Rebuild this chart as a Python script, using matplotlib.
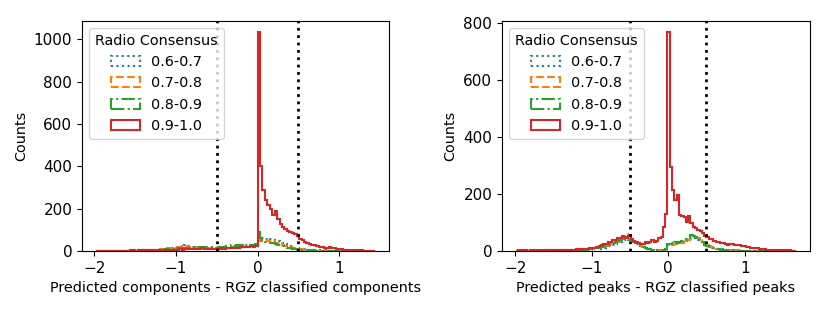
import numpy as np
import matplotlib
matplotlib.use("Agg")
import matplotlib.pyplot as plt

# ---------------- data ----------------
labels = ["0.6-0.7", "0.7-0.8", "0.8-0.9", "0.9-1.0"]
colors = ["C0", "C1", "C2", "C3"]
styles = [":", "--", "-.", "-"]

# Left panel: bins of width 0.03 from -1.98 to 1.44
left_bin_width = 0.03
left_first_edge = -1.98
left_blue = [1,0,1,0,1,1,0,2,1,1,2,1,2,1,2,3,2,
             3,4,3,5,4,6,5,7,6,8,9,7,10,12,11,14,
             16,20,24,28,22,25,20,18,21,16,18,15,17,14,16,13,15,
             14,16,13,15,17,14,16,18,15,19,17,20,18,22,25,30,
             72,58,62,55,60,57,54,50,48,42,38,32,28,24,20,16,12,
             10,9,8,7,6,5,5,4,4,3,3,2,2,2,1,1,1,
             1,0,1,0,0,1,0,0,0,0,0,0,0,1]
left_orange = [0,1,0,1,1,0,1,1,2,1,1,2,2,1,3,2,3,
               3,4,4,5,5,6,6,8,7,9,10,9,12,13,15,16,
               18,20,22,19,23,21,20,17,19,16,14,15,13,16,12,14,13,
               12,15,14,16,13,17,15,14,18,16,19,17,21,20,24,28,
               55,48,52,50,47,44,45,40,36,32,28,24,20,17,14,11,9,
               8,7,6,5,5,4,3,3,2,2,2,1,1,1,1,0,1,
               0,0,1,0,0,0,0,0,0,0,0,0,0,0]
left_green = [1,0,1,0,0,1,1,0,1,1,2,1,1,2,1,2,2,
              2,3,2,4,3,4,5,4,6,5,7,8,7,9,10,11,
              12,14,13,15,12,16,14,18,15,17,19,16,20,18,17,19,16,
              18,21,19,24,22,26,23,27,25,28,24,26,22,27,30,34,
              90,60,45,42,40,38,36,34,30,26,22,18,15,12,10,8,7,
              6,5,4,4,3,3,2,2,2,1,1,1,1,0,1,0,0,
              0,0,0,0,0,0,0,0,0,0,0,0,0,0]
left_red = [1,0,1,2,1,1,2,1,0,2,1,2,1,2,3,2,2,
            3,2,4,3,3,4,5,4,3,5,6,4,5,6,5,7,
            6,8,7,9,8,10,9,11,9,10,12,11,10,9,11,10,8,
            10,12,11,14,13,15,14,16,15,18,17,19,20,22,21,24,
            1035,402,290,240,215,198,170,188,150,128,112,102,95,90,86,80,70,
            58,50,44,40,34,30,26,23,20,17,16,15,20,13,12,11,10,
            9,7,6,6,5,5,4,3,3,2,2,1,1,1]

# Right panel: bins of width 0.03 from -1.99 to 1.67
right_bin_width = 0.03
right_first_edge = -1.99
right_blue = [1,0,1,0,1,0,1,1,0,1,1,0,1,1,2,1,1,
              1,2,1,2,2,1,2,3,2,3,2,3,4,3,4,5,
              6,7,9,8,11,12,14,16,18,20,24,27,30,34,38,40,37,
              34,30,25,21,17,13,10,8,6,5,4,4,3,3,4,6,
              24,26,22,28,27,30,33,31,36,40,42,45,41,38,34,28,22,
              18,15,12,10,8,7,6,5,4,3,3,2,2,2,1,1,1,
              1,1,0,1,0,0,1,0,0,0,0,0,0,0,0,0,0,0,0,1,0,0]
right_orange = [0,1,0,1,0,1,1,0,1,0,1,1,1,0,1,1,2,
                1,2,2,1,2,3,2,3,3,2,4,3,4,5,4,6,
                7,8,10,12,13,15,18,20,23,26,30,33,36,44,52,58,48,
                42,36,30,24,18,14,10,8,6,4,3,3,2,3,3,5,
                20,24,22,26,28,31,29,34,37,40,44,48,50,45,40,32,26,
                20,16,13,10,8,7,5,4,4,3,2,2,1,2,1,1,0,
                1,0,0,1,0,0,0,0,0,0,0,0,0,0,0,0,0,0,0,0,0,0]
right_green = [1,0,0,1,1,0,1,0,1,1,0,1,1,1,1,2,1,
               2,1,2,2,3,2,3,3,4,3,4,5,4,6,5,7,
               8,9,11,12,15,16,19,22,24,27,32,35,38,42,45,44,40,
               38,32,27,22,17,13,10,7,6,5,4,3,3,2,4,6,
               25,28,24,30,27,33,35,38,42,47,55,52,48,44,38,30,24,
               19,15,12,9,7,6,5,4,3,3,2,2,1,1,1,1,0,
               0,0,0,0,0,0,0,0,0,0,0,0,0,0,0,0,0,0,0,0,0,0]
right_red = [1,2,1,2,2,1,3,2,2,3,2,3,2,3,3,2,3,
             3,4,3,4,3,5,4,4,5,6,5,6,7,6,8,9,
             9,11,14,16,20,23,26,30,33,37,40,44,46,52,49,47,52,
             41,36,33,27,25,26,33,29,30,38,33,34,45,50,85,130,
             768,293,213,178,196,126,124,120,103,122,97,83,79,73,71,62,52,
             48,42,41,36,33,32,29,27,24,22,23,24,22,20,21,19,17,
             15,14,12,10,9,9,8,7,6,5,5,4,3,3,2,3,2,2,1,2,1,1]

cut_values = [-0.5, 0.5]
left_xlabel = "Predicted components - RGZ classified components"
right_xlabel = "Predicted peaks - RGZ classified peaks"
legend_title = "Radio Consensus"

# ---------------- plot ----------------
plt.rcParams['font.family'] = ['DejaVu Sans']
plt.rcParams['font.size'] = 10.4
plt.rcParams['xtick.labelsize'] = 11
plt.rcParams['ytick.labelsize'] = 11

fig = plt.figure(figsize=(8.3, 3.12), dpi=100)
ax1 = fig.add_axes([82/830, 61/312, 307/830, 230/312])
ax2 = fig.add_axes([502/830, 61/312, 308/830, 230/312])

def draw(ax, first_edge, width, series, xlabel):
    n = len(series[0])
    edges = first_edge + width * np.arange(n + 1)
    centers = 0.5 * (edges[:-1] + edges[1:])
    for counts, c, ls, lab in zip(series, colors, styles, labels):
        ax.hist(centers, bins=edges, weights=counts, histtype='step',
                color=c, linestyle=ls, linewidth=1.5, label=lab)
    for v in cut_values:
        ax.axvline(v, color='k', linestyle=':', linewidth=2)
    ax.set_xlabel(xlabel)
    ax.set_ylabel("Counts")
    ax.legend(title=legend_title, loc='upper left')

draw(ax1, left_first_edge, left_bin_width,
     [left_blue, left_orange, left_green, left_red], left_xlabel)
draw(ax2, right_first_edge, right_bin_width,
     [right_blue, right_orange, right_green, right_red], right_xlabel)

ax1.set_yticks([0, 200, 400, 600, 800, 1000])
ax2.set_yticks([0, 200, 400, 600, 800])

fig.savefig("out.png", dpi=100)
